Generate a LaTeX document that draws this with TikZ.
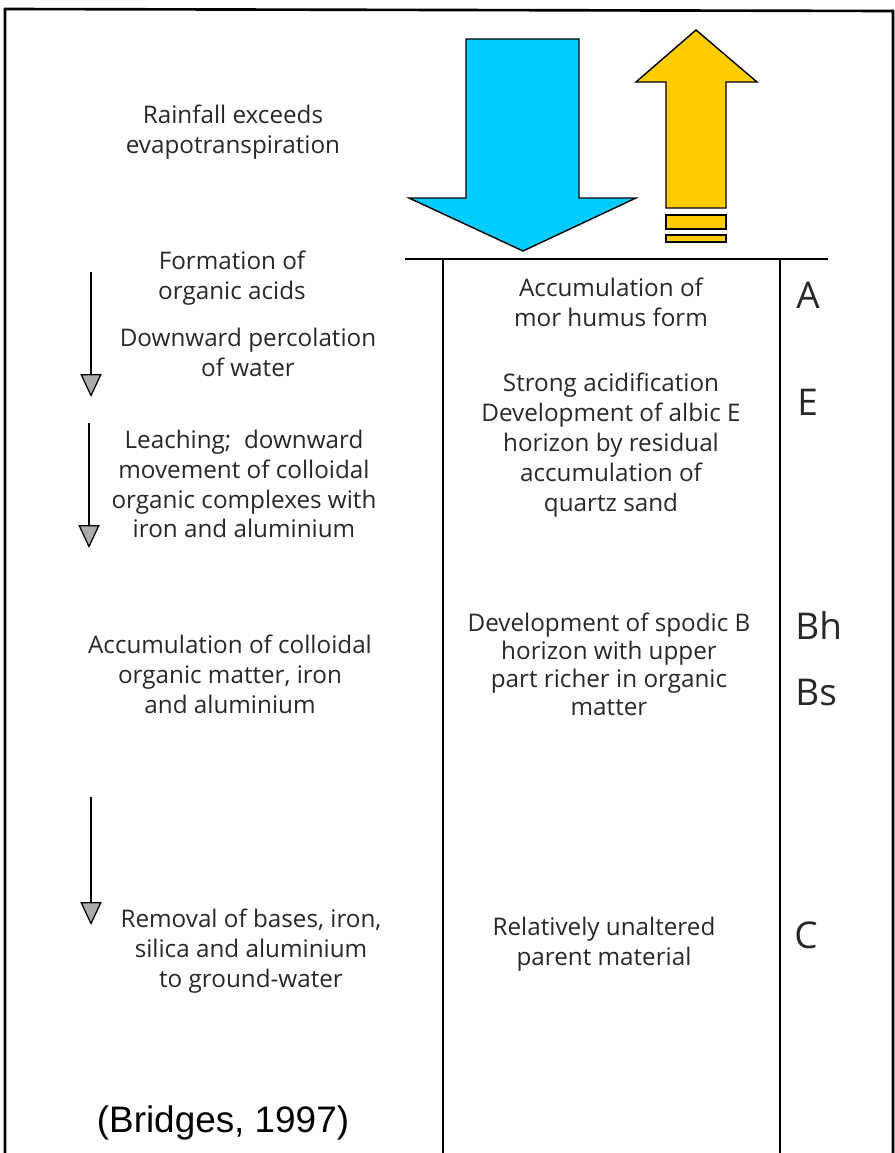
\documentclass[tikz,border=0pt]{standalone}
\usepackage{fontspec}
\setmainfont{Open Sans}
\newfontfamily\citefont{Liberation Sans}
\usetikzlibrary{arrows.meta}
\definecolor{rainBlue}{RGB}{0, 204, 255}
\definecolor{evapYellow}{RGB}{255, 204, 0}
\definecolor{inkGray}{RGB}{40, 40, 40}

\begin{document}
\begin{tikzpicture}[x=0.02cm, y=-0.02cm,
    label/.style={align=center, inner sep=0pt, text=inkGray,
        font=\fontsize{13.8}{17}\selectfont},
    horizon/.style={anchor=west, inner sep=0pt, text=inkGray,
        font=\fontsize{21}{25}\selectfont},
    flow/.style={line width=0.7pt,
        -{Triangle[width=12pt, length=13pt, fill=gray!65]}}]
            \useasboundingbox (0,0) rectangle (895,1153);

            % Frame
            \draw[line width=1.5pt] (5,1153) -- (5,9) -- (893,11) -- (893,1153);

            % Profile columns
            \draw[line width=0.9pt] (405,259) -- (828,259);
            \draw[line width=0.9pt] (443,259) -- (443,1153);
            \draw[line width=0.9pt] (780,259) -- (780,1153);

            % Rainfall and evapotranspiration
            \filldraw[fill=rainBlue, line width=0.8pt] (466,39) -- (579,39) -- (579,198) -- (636,198)
                -- (523,251) -- (409,198) -- (466,198) -- cycle;
            \filldraw[fill=evapYellow, line width=0.8pt] (696,30) -- (757,82) -- (726,82) -- (726,208)
                -- (666,208) -- (666,82) -- (636,82) -- cycle;
            \filldraw[fill=evapYellow, line width=0.8pt] (666,215) rectangle (726,229);
            \filldraw[fill=evapYellow, line width=0.8pt] (666,235) rectangle (726,242);

            % Processes
            \node[label] (rain) at (233,132) {Rainfall exceeds\\evapotranspiration};
            \node[label] (acids) at (232,278) {Formation of\\organic acids};
            \node[label] (perc) at (248,352) {Downward percolation\\of water};
            \node[label] (leach) at (244,484) {Leaching;\ \ downward\\movement of colloidal\\organic complexes with\\iron and aluminium};
            \node[label] (accum) at (230,674) {Accumulation of colloidal\\organic matter, iron\\and aluminium};
            \node[label] (removal) at (251,951) {Removal of bases, iron,\\silica and aluminium\\to ground-water};
            \node[inner sep=0pt, font=\citefont\fontsize{21}{25}\selectfont] (source) at (223,1123) {(Bridges, 1997)};

            % Downward movement
            \coordinate (f1s) at (91,272);
            \coordinate (f1e) at (91,397);
            \coordinate (f2s) at (89,423);
            \coordinate (f2e) at (89,548);
            \coordinate (f3s) at (91,797);
            \coordinate (f3e) at (91,925);
            \draw[flow] (f1s) -- (f1e);
            \draw[flow] (f2s) -- (f2e);
            \draw[flow] (f3s) -- (f3e);

            % Horizon features
            \node[label] (mor) at (611,302) {Accumulation of\\mor humus form};
            \node[label] (albic) at (611,445) {Strong acidification\\Development of albic E\\horizon by residual\\accumulation of\\quartz sand};
            \node[label, font=\fontsize{13.8}{16}\selectfont] (spodic) at (609,664) {Development of spodic B\\horizon with upper\\part richer in organic\\matter};
            \node[label] (parent) at (604,944) {Relatively unaltered\\parent material};

            % Horizon names
            \node[horizon] (hA) at (796,295) {A};
            \node[horizon] (hE) at (797,402) {E};
            \node[horizon] (hBh) at (795,625) {Bh};
            \node[horizon] (hBs) at (795,693) {Bs};
            \node[horizon] (hC) at (794,935) {C};
        \end{tikzpicture}
\end{document}
